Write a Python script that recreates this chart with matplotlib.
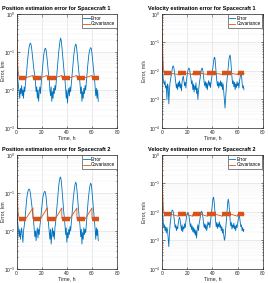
import numpy as np
import matplotlib.pyplot as plt
from matplotlib.ticker import LogLocator, NullFormatter

# filter output every 0.5 h, 0..65 h
t = np.linspace(0, 65, 131)

pos_err_sc1 = [
    0.055, 0.03, 0.018, 0.012, 0.009, 0.006, 0.011, 0.008, 0.013, 0.007,
    0.010, 0.006, 0.012, 0.009, 0.014, 0.02, 0.03, 0.05, 0.075, 0.105,
    0.135, 0.16, 0.17, 0.155, 0.12, 0.085, 0.06, 0.04, 0.03, 0.024,
    0.016, 0.009, 0.012, 0.006, 0.010, 0.005, 0.009, 0.012, 0.008, 0.014,
    0.022, 0.035, 0.055, 0.08, 0.10, 0.12, 0.125, 0.11, 0.08, 0.055,
    0.035, 0.025, 0.018, 0.01, 0.007, 0.012, 0.005, 0.009, 0.006, 0.011,
    0.008, 0.013, 0.01, 0.016, 0.025, 0.04, 0.065, 0.1, 0.14, 0.19,
    0.23, 0.2, 0.14, 0.09, 0.055, 0.035, 0.025, 0.018, 0.011, 0.006,
    0.01, 0.0045, 0.008, 0.011, 0.007, 0.012, 0.009, 0.014, 0.022, 0.035,
    0.055, 0.08, 0.11, 0.14, 0.16, 0.15, 0.11, 0.07, 0.045, 0.03,
    0.022, 0.014, 0.008, 0.012, 0.005, 0.009, 0.006, 0.011, 0.008, 0.013,
    0.01, 0.016, 0.025, 0.04, 0.06, 0.085, 0.105, 0.12, 0.13, 0.12,
    0.09, 0.06, 0.04, 0.028, 0.02, 0.012, 0.007, 0.011, 0.006, 0.01,
    0.005]

pos_err_sc2 = [
    0.05, 0.025, 0.015, 0.01, 0.007, 0.011, 0.006, 0.009, 0.012, 0.008,
    0.005, 0.01, 0.013, 0.018, 0.028, 0.045, 0.068, 0.09, 0.11, 0.122,
    0.125, 0.118, 0.095, 0.07, 0.05, 0.035, 0.025, 0.018, 0.011, 0.007,
    0.01, 0.0055, 0.009, 0.012, 0.0065, 0.011, 0.008, 0.013, 0.018, 0.027,
    0.042, 0.06, 0.08, 0.095, 0.105, 0.11, 0.1, 0.075, 0.05, 0.032,
    0.022, 0.014, 0.009, 0.006, 0.011, 0.0045, 0.008, 0.012, 0.007, 0.01,
    0.006, 0.012, 0.016, 0.025, 0.04, 0.065, 0.1, 0.15, 0.2, 0.25,
    0.26, 0.21, 0.14, 0.085, 0.05, 0.032, 0.022, 0.014, 0.008, 0.012,
    0.005, 0.009, 0.0065, 0.011, 0.008, 0.013, 0.01, 0.015, 0.024, 0.04,
    0.065, 0.095, 0.13, 0.165, 0.19, 0.175, 0.12, 0.075, 0.045, 0.03,
    0.02, 0.013, 0.007, 0.011, 0.0045, 0.009, 0.006, 0.012, 0.008, 0.011,
    0.009, 0.015, 0.024, 0.04, 0.065, 0.095, 0.13, 0.16, 0.18, 0.16,
    0.11, 0.07, 0.042, 0.027, 0.018, 0.011, 0.006, 0.012, 0.0075, 0.011,
    0.0055]

vel_err_sc1 = [
    0.05, 0.012, 0.005, 0.004, 0.0032, 0.0045, 0.0025, 0.003, 0.001, 0.0035,
    0.0028, 0.0007, 0.0022, 0.004, 0.0055, 0.008, 0.011, 0.014, 0.015, 0.013,
    0.009, 0.006, 0.004, 0.0025, 0.0035, 0.0022, 0.004, 0.0028, 0.0045, 0.0025,
    0.0035, 0.002, 0.0042, 0.0055, 0.0065, 0.0045, 0.003, 0.004, 0.0025, 0.0048,
    0.007, 0.0095, 0.012, 0.0125, 0.011, 0.008, 0.0055, 0.0035, 0.0045, 0.0022,
    0.0035, 0.0018, 0.003, 0.0022, 0.0038, 0.0016, 0.0025, 0.001, 0.0019, 0.0032,
    0.0045, 0.0065, 0.0095, 0.012, 0.0125, 0.01, 0.0065, 0.004, 0.003, 0.0042,
    0.0025, 0.0038, 0.0022, 0.0035, 0.0045, 0.003, 0.004, 0.0026, 0.0042, 0.006,
    0.0095, 0.015, 0.022, 0.03, 0.028, 0.016, 0.008, 0.0045, 0.003, 0.0042,
    0.0025, 0.0038, 0.003, 0.0045, 0.0028, 0.004, 0.0022, 0.0035, 0.0018, 0.001,
    0.0005, 0.0012, 0.0025, 0.0045, 0.0075, 0.013, 0.022, 0.032, 0.036, 0.025,
    0.012, 0.006, 0.0035, 0.0045, 0.0028, 0.004, 0.0022, 0.0035, 0.0026, 0.0042,
    0.003, 0.0038, 0.0025, 0.0045, 0.006, 0.0085, 0.0075, 0.004, 0.0025, 0.003,
    0.0022]

vel_err_sc2 = [
    0.045, 0.01, 0.0045, 0.0028, 0.0035, 0.0022, 0.003, 0.0018, 0.0028, 0.0022,
    0.0012, 0.0006, 0.0018, 0.0035, 0.0055, 0.0085, 0.011, 0.0115, 0.01, 0.007,
    0.0045, 0.0028, 0.0035, 0.0022, 0.003, 0.0025, 0.004, 0.0055, 0.0065, 0.005,
    0.0032, 0.0022, 0.0035, 0.002, 0.003, 0.0025, 0.0038, 0.0028, 0.0045, 0.0065,
    0.0085, 0.0095, 0.009, 0.007, 0.0045, 0.003, 0.0038, 0.0024, 0.0032, 0.002,
    0.0028, 0.0018, 0.0025, 0.0015, 0.0022, 0.0012, 0.0025, 0.0035, 0.0022, 0.0038,
    0.005, 0.007, 0.009, 0.0105, 0.0095, 0.0065, 0.004, 0.0028, 0.0038, 0.0025,
    0.0035, 0.0022, 0.003, 0.0045, 0.0035, 0.0042, 0.0028, 0.0045, 0.007, 0.012,
    0.02, 0.03, 0.032, 0.02, 0.01, 0.005, 0.003, 0.0042, 0.0026, 0.0038,
    0.003, 0.0045, 0.0028, 0.0035, 0.0022, 0.003, 0.0018, 0.0025, 0.0015, 0.001,
    0.0012, 0.0025, 0.0045, 0.009, 0.018, 0.028, 0.022, 0.011, 0.0055, 0.0032,
    0.0042, 0.0025, 0.0035, 0.0028, 0.004, 0.0025, 0.0032, 0.0022, 0.0035, 0.0028,
    0.004, 0.0055, 0.0072, 0.0068, 0.0045, 0.003, 0.0035, 0.0022, 0.0028, 0.002,
    0.0024]

# tracking passes, h
pass_start = [2.0, 13.0, 24.4, 36.0, 48.0, 60.0]
pass_end = [7.4, 19.2, 31.0, 42.5, 54.8, 65.3]

# 3-sigma covariance bound
cov_t = [0, 0.2, 0.6, 1.2, 2.0, 7.4, 13.0, 13.0, 19.2, 24.4, 24.4, 31.0, 36.0, 36.0,
         42.5, 48.0, 48.0, 54.8, 60.0, 60.0, 65.3]
pos_cov_sc1 = [1.0, 0.3, 0.07, 0.03, 0.021, 0.021, 0.024, 0.021, 0.021, 0.024, 0.021,
               0.021, 0.024, 0.021, 0.021, 0.024, 0.021, 0.021, 0.024, 0.021, 0.021]
pos_cov_sc2 = [1.0, 0.3, 0.07, 0.03, 0.021, 0.021, 0.04, 0.021, 0.021, 0.04, 0.021,
               0.021, 0.04, 0.021, 0.021, 0.04, 0.021, 0.021, 0.04, 0.021, 0.021]
vel_cov_sc1 = [1.0, 0.3, 0.05, 0.012, 0.0082, 0.0082, 0.0075, 0.0082, 0.0082, 0.0075, 0.0082,
               0.0082, 0.0075, 0.0082, 0.0082, 0.0075, 0.0082, 0.0082, 0.0075, 0.0082, 0.0082]
vel_cov_sc2 = [1.0, 0.3, 0.05, 0.012, 0.0082, 0.0082, 0.007, 0.0082, 0.0082, 0.007, 0.0082,
               0.0082, 0.007, 0.0082, 0.0082, 0.007, 0.0082, 0.0082, 0.007, 0.0082, 0.0082]

blue = '#0072BD'
orange = '#D95319'

panels = [
    ('Position estimation error for Spacecraft 1', 'Error, km', pos_err_sc1, pos_cov_sc1, (1e-3, 1)),
    ('Velocity estimation error for Spacecraft 1', 'Error, m/s', vel_err_sc1, vel_cov_sc1, (1e-4, 1)),
    ('Position estimation error for Spacecraft 2', 'Error, km', pos_err_sc2, pos_cov_sc2, (1e-3, 1)),
    ('Velocity estimation error for Spacecraft 2', 'Error, m/s', vel_err_sc2, vel_cov_sc2, (1e-4, 1)),
]
boxes = [[0.062, 0.548, 0.375, 0.403], [0.604, 0.548, 0.377, 0.403],
         [0.062, 0.050, 0.375, 0.403], [0.604, 0.050, 0.377, 0.403]]
ylabel_x = [-0.115, -0.155, -0.115, -0.155]

fig = plt.figure(figsize=(2.68, 2.83), dpi=100)
plt.rcParams['font.family'] = ['Liberation Sans', 'DejaVu Sans']

for (title, ylab, err, cov, ylim), box, lx in zip(panels, boxes, ylabel_x):
    ax = fig.add_axes(box)
    assert len(err) == len(t)
    ax.semilogy(t, err, color=blue, lw=0.6, label='Error')
    ax.semilogy(cov_t, cov, color=orange, lw=0.6, label='Covariance')
    for s, e in zip(pass_start, pass_end):
        lvl = np.interp((s + e) / 2, cov_t, cov)
        ax.plot([s, e], [lvl, lvl], color=orange, lw=3.2, solid_capstyle='butt')

    ax.set_xlim(0, 80)
    ax.set_ylim(*ylim)
    ax.set_xticks([0, 20, 40, 60, 80])
    ax.yaxis.set_major_locator(LogLocator(base=10, numticks=10))
    ax.yaxis.set_minor_locator(LogLocator(base=10, subs=np.arange(2, 10), numticks=10))
    ax.yaxis.set_minor_formatter(NullFormatter())
    ax.grid(True, which='major', color='#d9d9d9', lw=0.4)
    ax.grid(True, which='minor', axis='y', color='#eeeeee', lw=0.3)
    ax.set_axisbelow(True)
    ax.tick_params(which='both', direction='in', top=True, right=True,
                   labelsize=3.5, pad=1.2, colors='#262626', width=0.4)
    ax.tick_params(which='major', length=1.8)
    ax.tick_params(which='minor', length=1.0)
    for sp in ax.spines.values():
        sp.set_linewidth(0.5)
        sp.set_color('#262626')

    ax.set_xlabel('Time, h', fontsize=3.8, labelpad=0.8, color='#262626')
    ax.set_ylabel(ylab, fontsize=3.6, color='#262626')
    ax.yaxis.set_label_coords(lx, 0.5)
    ax.text(0.39, 1.025, title, transform=ax.transAxes, ha='center', va='bottom',
            fontsize=4.0, fontweight='bold')
    ax.legend(loc='upper right', fontsize=3.4, handlelength=1.3, handletextpad=0.3,
              borderpad=0.3, labelspacing=0.15, borderaxespad=0.1, fancybox=False,
              framealpha=1, edgecolor='#262626').get_frame().set_linewidth(0.4)

fig.savefig('out.png', dpi=100)
